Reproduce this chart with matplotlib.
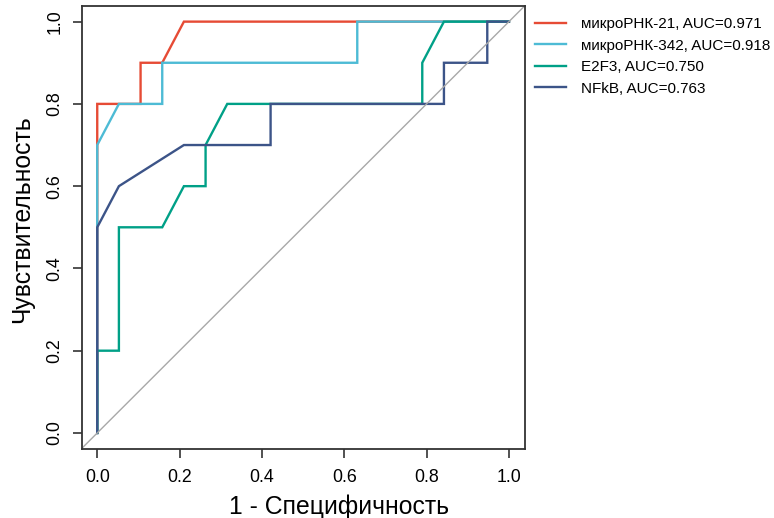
import matplotlib
matplotlib.use('Agg')
import matplotlib.pyplot as plt

plt.rcParams['font.family'] = ['Liberation Sans', 'DejaVu Sans']

# ROC points (1 - specificity, sensitivity), 19 negatives / 10 positives
FPR_MIR21 = [0, 0, 2/19, 2/19, 3/19, 4/19, 1]
TPR_MIR21 = [0, 0.8, 0.8, 0.9, 0.9, 1.0, 1.0]

FPR_MIR342 = [0, 0, 1/19, 3/19, 3/19, 12/19, 12/19, 1]
TPR_MIR342 = [0, 0.7, 0.8, 0.8, 0.9, 0.9, 1.0, 1.0]

FPR_E2F3 = [0, 0, 1/19, 1/19, 3/19, 4/19, 5/19, 5/19, 6/19, 15/19, 15/19, 16/19, 1]
TPR_E2F3 = [0, 0.2, 0.2, 0.5, 0.5, 0.6, 0.6, 0.7, 0.8, 0.8, 0.9, 1.0, 1.0]

FPR_NFKB = [0, 0, 1/19, 4/19, 8/19, 8/19, 16/19, 16/19, 18/19, 18/19, 1]
TPR_NFKB = [0, 0.5, 0.6, 0.7, 0.7, 0.8, 0.8, 0.9, 0.9, 1.0, 1.0]

LABELS = ['микроРНК-21, AUC=0.971', 'микроРНК-342, AUC=0.918',
          'E2F3, AUC=0.750', 'NFkB, AUC=0.763']
COLORS = ['#E64B35', '#4DBBD5', '#00A087', '#3C5488']
TICKS = [0.0, 0.2, 0.4, 0.6, 0.8, 1.0]

W, H = 774, 518
fig = plt.figure(figsize=(W / 100, H / 100), dpi=100)
ax = fig.add_axes([82 / W, (H - 449) / H, 443 / W, 443 / H])

curves = [(FPR_MIR21, TPR_MIR21), (FPR_MIR342, TPR_MIR342),
          (FPR_E2F3, TPR_E2F3), (FPR_NFKB, TPR_NFKB)]
for (x, y), lab, col in zip(curves, LABELS, COLORS):
    ax.plot(x, y, color=col, linewidth=1.7, label=lab, solid_joinstyle='miter')

ax.axline((0, 0), (1, 1), color='#A8A8A8', linewidth=1.0)

ax.set_xlim(-0.037, 1.039)
ax.set_ylim(-0.039, 1.038)
ax.set_xticks(TICKS)
ax.set_yticks(TICKS)
ax.set_xticklabels([f'{t:.1f}' for t in TICKS], fontsize=12.8)
ax.set_yticklabels([f'{t:.1f}' for t in TICKS], fontsize=12.8, rotation=90, va='center')
ax.tick_params(length=6.5, width=1.2, color='#333333')
ax.tick_params(axis='x', pad=8)
ax.tick_params(axis='y', pad=6.7)
for s in ax.spines.values():
    s.set_linewidth(1.3)
    s.set_color('#333333')

fig.text(339 / W, 1 - 507 / H, '1 - Специфичность', fontsize=17.8,
         ha='center', va='center')
fig.text(22 / W, 1 - 219 / H, 'Чувствительность', fontsize=17.8,
         ha='center', va='center', rotation=90)

ax.legend(loc='upper left', bbox_to_anchor=(529 / W, 1 - 11 / H),
          bbox_transform=fig.transFigure, frameon=False, fontsize=11,
          handlelength=2.0, handletextpad=1.0, labelspacing=0.49,
          borderaxespad=0)

fig.savefig('out.png', dpi=100)
